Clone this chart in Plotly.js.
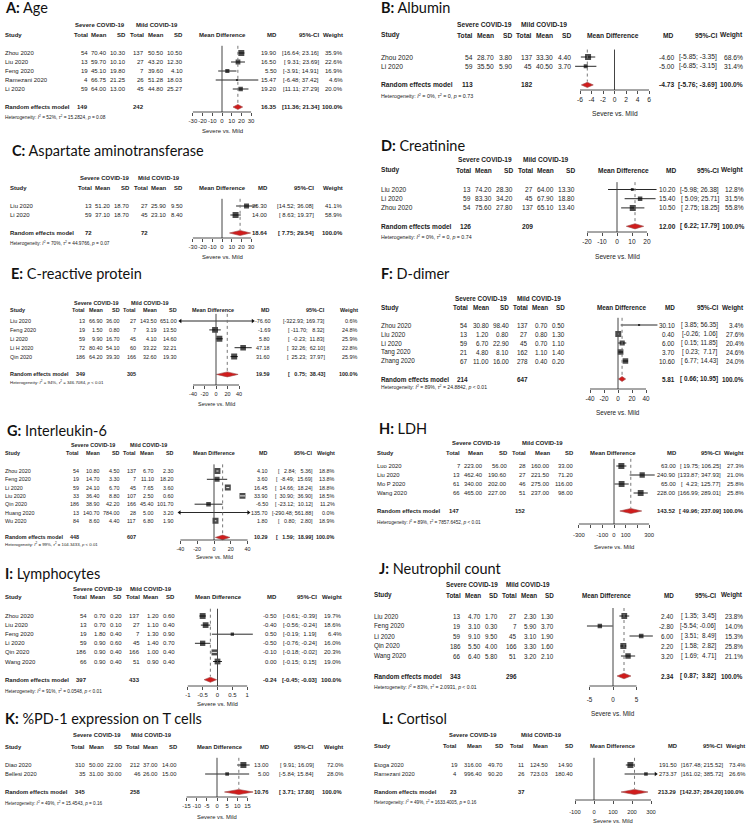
<!DOCTYPE html>
<html>
<head>
<meta charset="utf-8">
<script src="https://cdn.plot.ly/plotly-3.0.1.min.js"></script>
<style>
  body { margin: 0; background: #fff; }
  #chart { width: 752px; height: 825px; }
</style>
</head>
<body>
<div id="chart"></div>
<script>
// ---------- data ----------
// each study row: severe [total, mean, sd], mild [total, mean, sd], [md, lower, upper], weight %

// A: Age
const ageStudy = ["Zhou 2020", "Liu 2020", "Feng 2020", "Ramezani 2020", "Li 2020"];
const ageSevere = [[54, 70.40, 10.30], [13, 59.70, 10.10], [19, 45.10, 19.80], [4, 66.75, 21.25], [59, 64.00, 13.00]];
const ageMild = [[137, 50.50, 10.50], [27, 43.20, 12.30], [7, 39.60, 4.10], [26, 51.28, 18.03], [45, 44.80, 25.27]];
const ageMD = [[19.90, 16.64, 23.16], [16.50, 9.31, 23.69], [5.50, -3.91, 14.91], [15.47, -6.48, 37.42], [19.20, 11.11, 27.29]];
const ageWeight = [35.9, 22.6, 16.9, 4.6, 20.0];
const agePooled = [149, 242, 16.35, 11.36, 21.34];
const ageHet = ["52%", "15.2824", "= 0.08"];
const ageTicks = [-30, -20, -10, 0, 10, 20, 30];

// B: Albumin
const albStudy = ["Zhou 2020", "Li 2020"];
const albSevere = [[54, 28.70, 3.80], [59, 35.50, 5.90]];
const albMild = [[137, 33.30, 4.40], [45, 40.50, 3.70]];
const albMD = [[-4.60, -5.85, -3.35], [-5.00, -6.85, -3.15]];
const albWeight = [68.6, 31.4];
const albPooled = [113, 182, -4.73, -5.76, -3.69];
const albHet = ["0%", "0", "= 0.73"];
const albTicks = [-6, -4, -2, 0, 2, 4, 6];

// C: Aspartate aminotransferase
const astStudy = ["Liu 2020", "Li 2020"];
const astSevere = [[13, 51.20, 18.70], [59, 37.10, 18.70]];
const astMild = [[27, 25.90, 9.50], [45, 23.10, 8.40]];
const astMD = [[25.30, 14.52, 36.08], [14.00, 8.63, 19.37]];
const astWeight = [41.1, 58.9];
const astPooled = [72, 72, 18.64, 7.75, 29.54];
const astHet = ["70%", "44.9766", "= 0.07"];
const astTicks = [-30, -20, -10, 0, 10, 20, 30];

// D: Creatinine
const creStudy = ["Liu 2020", "Li 2020", "Zhou 2020"];
const creSevere = [[13, 74.20, 28.30], [59, 83.30, 34.20], [54, 75.60, 27.80]];
const creMild = [[27, 64.00, 13.30], [45, 67.90, 18.80], [137, 65.10, 13.40]];
const creMD = [[10.20, -5.98, 26.38], [15.40, 5.09, 25.71], [10.50, 2.75, 18.25]];
const creWeight = [12.8, 31.5, 55.8];
const crePooled = [126, 209, 12.00, 6.22, 17.79];
const creHet = ["0%", "0", "= 0.74"];
const creTicks = [-20, -10, 0, 10, 20];

// E: C-reactive protein
const crpStudy = ["Liu 2020", "Feng 2020", "Li 2020", "Li H 2020", "Qin 2020"];
const crpSevere = [[13, 66.90, 36.00], [19, 1.50, 0.80], [59, 9.90, 16.70], [72, 80.40, 54.10], [186, 64.20, 39.30]];
const crpMild = [[27, 143.50, 651.00], [7, 3.19, 13.50], [45, 4.10, 14.60], [60, 33.22, 32.21], [166, 32.60, 19.30]];
const crpMD = [[-76.60, -322.93, 169.73], [-1.69, -11.70, 8.32], [5.80, -0.23, 11.83], [47.18, 32.26, 62.10], [31.60, 25.23, 37.97]];
const crpWeight = [0.6, 24.8, 25.9, 22.8, 25.9];
const crpPooled = [349, 305, 19.59, 0.75, 38.43];
const crpHet = ["94%", "346.7084", "< 0.01"];
const crpTicks = [-40, -20, 0, 20, 40];

// F: D-dimer
const ddStudy = ["Zhou 2020", "Liu 2020", "Li 2020", "Tang 2020", "Zhang 2020"];
const ddSevere = [[54, 30.80, 98.40], [13, 1.20, 0.80], [59, 6.70, 22.90], [21, 4.80, 8.10], [67, 11.00, 16.00]];
const ddMild = [[137, 0.70, 0.50], [27, 0.80, 1.30], [45, 0.70, 1.10], [162, 1.10, 1.40], [278, 0.40, 0.20]];
const ddMD = [[30.10, 3.85, 56.35], [0.40, -0.26, 1.06], [6.00, 0.15, 11.85], [3.70, 0.23, 7.17], [10.60, 6.77, 14.43]];
const ddWeight = [3.4, 27.6, 20.4, 24.6, 24.0];
const ddPooled = [214, 647, 5.81, 0.66, 10.95];
const ddHet = ["89%", "24.8842", "< 0.01"];
const ddTicks = [-40, -20, 0, 20, 40];

// G: Interleukin-6
const il6Study = ["Zhou 2020", "Feng 2020", "Li 2020", "Liu 2020", "Qin 2020", "Huang 2020", "Wu 2020"];
const il6Severe = [[54, 10.80, 4.50], [19, 14.70, 3.30], [59, 24.10, 6.70], [33, 36.40, 8.80], [186, 38.90, 42.20], [13, 140.70, 784.00], [84, 8.60, 4.40]];
const il6Mild = [[137, 6.70, 2.30], [7, 11.10, 18.20], [45, 7.65, 3.60], [107, 2.50, 0.60], [166, 45.40, 101.70], [28, 5.00, 3.20], [117, 6.80, 1.90]];
const il6MD = [[4.10, 2.84, 5.36], [3.60, -8.49, 15.69], [16.45, 14.66, 18.24], [33.90, 30.90, 36.90], [-6.50, -23.12, 10.12], [135.70, -290.48, 561.88], [1.80, 0.80, 2.80]];
const il6Weight = [18.8, 13.8, 18.8, 18.5, 11.2, 0.0, 18.9];
const il6Pooled = [448, 607, 10.29, 1.59, 18.99];
const il6Het = ["99%", "104.3433", "< 0.01"];
const il6Ticks = [-40, -20, 0, 20, 40];

// H: LDH (the ±200 ticks carry no label)
const ldhStudy = ["Luo 2020", "Liu 2020", "Mo P 2020", "Wang 2020"];
const ldhSevere = [[7, 223.00, 56.00], [13, 462.40, 190.60], [61, 340.00, 202.00], [66, 465.00, 227.00]];
const ldhMild = [[28, 160.00, 33.00], [27, 221.50, 71.20], [46, 275.00, 116.00], [51, 237.00, 98.00]];
const ldhMD = [[63.00, 19.75, 106.25], [240.90, 133.87, 347.93], [65.00, 4.23, 125.77], [228.00, 166.99, 289.01]];
const ldhWeight = [27.3, 21.0, 25.8, 25.8];
const ldhPooled = [147, 152, 143.52, 49.96, 237.09];
const ldhHet = ["89%", "7857.6452", "< 0.01"];
const ldhTicks = [-300, -100, 0, 100, 300];
const ldhMinorTicks = [-200, 200];

// I: Lymphocytes
const lymStudy = ["Zhou 2020", "Liu 2020", "Feng 2020", "Li 2020", "Qin 2020", "Wang 2020"];
const lymSevere = [[54, 0.70, 0.20], [13, 0.70, 0.10], [19, 1.80, 0.40], [59, 0.90, 0.60], [186, 0.90, 0.40], [66, 0.90, 0.40]];
const lymMild = [[137, 1.20, 0.60], [27, 1.10, 0.40], [7, 1.30, 0.90], [45, 1.40, 0.70], [166, 1.00, 0.40], [51, 0.90, 0.40]];
const lymMD = [[-0.50, -0.61, -0.39], [-0.40, -0.56, -0.24], [0.50, -0.19, 1.19], [-0.50, -0.76, -0.24], [-0.10, -0.18, -0.02], [0.00, -0.15, 0.15]];
const lymWeight = [19.7, 18.6, 6.4, 16.0, 20.3, 19.0];
const lymPooled = [397, 433, -0.24, -0.45, -0.03];
const lymHet = ["91%", "0.0548", "< 0.01"];
const lymTicks = [-1, -0.5, 0, 0.5, 1];

// J: Neutrophil count
const neuStudy = ["Liu 2020", "Feng 2020", "Li 2020", "Qin 2020", "Wang 2020"];
const neuSevere = [[13, 4.70, 1.70], [19, 3.10, 0.30], [59, 9.10, 9.50], [186, 5.50, 4.00], [66, 6.40, 5.80]];
const neuMild = [[27, 2.30, 1.30], [7, 5.90, 3.70], [45, 3.10, 1.90], [166, 3.30, 1.60], [51, 3.20, 2.10]];
const neuMD = [[2.40, 1.35, 3.45], [-2.80, -5.54, -0.06], [6.00, 3.51, 8.49], [2.20, 1.58, 2.82], [3.20, 1.69, 4.71]];
const neuWeight = [23.8, 14.0, 15.3, 25.8, 21.1];
const neuPooled = [343, 296, 2.34, 0.87, 3.82];
const neuHet = ["83%", "2.0931", "< 0.01"];
const neuTicks = [-5, 0, 5];

// K: %PD-1 expression on T cells
const pdStudy = ["Diao 2020", "Bellesi 2020"];
const pdSevere = [[310, 50.00, 22.00], [35, 31.00, 30.00]];
const pdMild = [[212, 37.00, 14.00], [46, 26.00, 15.00]];
const pdMD = [[13.00, 9.91, 16.09], [5.00, -5.84, 15.84]];
const pdWeight = [72.0, 28.0];
const pdPooled = [345, 258, 10.76, 3.71, 17.80];
const pdHet = ["49%", "15.4543", "= 0.16"];
const pdTicks = [-15, -10, -5, 0, 5, 10, 15];

// L: Cortisol
const corStudy = ["Etoga 2020", "Ramezani 2020"];
const corSevere = [[19, 316.00, 49.70], [4, 996.40, 90.20]];
const corMild = [[11, 124.50, 14.90], [26, 723.03, 180.40]];
const corMD = [[191.50, 167.48, 215.52], [273.37, 161.02, 385.72]];
const corWeight = [73.4, 26.6];
const corPooled = [23, 37, 213.29, 142.37, 284.20];
const corHet = ["49%", "1633.4005", "= 0.16"];
const corTicks = [-100, 0, 100, 200, 300];

const panels = [
  { tag: "A", name: "Age", study: ageStudy, sev: ageSevere, mild: ageMild, md: ageMD, wt: ageWeight, pooled: agePooled, het: ageHet, ticks: ageTicks },
  { tag: "B", name: "Albumin", study: albStudy, sev: albSevere, mild: albMild, md: albMD, wt: albWeight, pooled: albPooled, het: albHet, ticks: albTicks },
  { tag: "C", name: "Aspartate aminotransferase", study: astStudy, sev: astSevere, mild: astMild, md: astMD, wt: astWeight, pooled: astPooled, het: astHet, ticks: astTicks },
  { tag: "D", name: "Creatinine", study: creStudy, sev: creSevere, mild: creMild, md: creMD, wt: creWeight, pooled: crePooled, het: creHet, ticks: creTicks },
  { tag: "E", name: "C-reactive protein", study: crpStudy, sev: crpSevere, mild: crpMild, md: crpMD, wt: crpWeight, pooled: crpPooled, het: crpHet, ticks: crpTicks },
  { tag: "F", name: "D-dimer", study: ddStudy, sev: ddSevere, mild: ddMild, md: ddMD, wt: ddWeight, pooled: ddPooled, het: ddHet, ticks: ddTicks },
  { tag: "G", name: "Interleukin-6", study: il6Study, sev: il6Severe, mild: il6Mild, md: il6MD, wt: il6Weight, pooled: il6Pooled, het: il6Het, ticks: il6Ticks },
  { tag: "H", name: "LDH", study: ldhStudy, sev: ldhSevere, mild: ldhMild, md: ldhMD, wt: ldhWeight, pooled: ldhPooled, het: ldhHet, ticks: ldhTicks, minor: ldhMinorTicks },
  { tag: "I", name: "Lymphocytes", study: lymStudy, sev: lymSevere, mild: lymMild, md: lymMD, wt: lymWeight, pooled: lymPooled, het: lymHet, ticks: lymTicks },
  { tag: "J", name: "Neutrophil count", study: neuStudy, sev: neuSevere, mild: neuMild, md: neuMD, wt: neuWeight, pooled: neuPooled, het: neuHet, ticks: neuTicks },
  { tag: "K", name: "%PD-1 expression on T cells", study: pdStudy, sev: pdSevere, mild: pdMild, md: pdMD, wt: pdWeight, pooled: pdPooled, het: pdHet, ticks: pdTicks },
  { tag: "L", name: "Cortisol", study: corStudy, sev: corSevere, mild: corMild, md: corMD, wt: corWeight, pooled: corPooled, het: corHet, ticks: corTicks },
];

// ---------- page geometry (pixels) ----------
// left: study column start, sd2: right edge of the last mild column,
// mdh: centre of "Mean Difference", md / wt: right edges of the MD and Weight columns.
// Column widths and the font size follow from the texts, like meta's forest().
const geom = {
  A: { title: [5, 8], left: 5, sd2: 183, mdh: 222, md: 277, wt: 343, h1: 25, h2: 35, r0: 53, step: 9, axis: 112, het: 117, xlab: 131, zero: 222, scale: 0.97, range: [-40, 40] },
  B: { title: [381, 8], left: 381, sd2: 571, mdh: 613, md: 674, wt: 743, h1: 25, h2: 35, r0: 57, step: 9.3, axis: 90, het: 96, xlab: 113, zero: 614.5, scale: 5.75, range: [-7, 7] },
  C: { title: [12, 150], left: 10, sd2: 183, mdh: 222, md: 268, wt: 343, h1: 178, h2: 188, r0: 206, step: 9, axis: 238, het: 243, xlab: 257, zero: 222, scale: 0.97, range: [-40, 40] },
  D: { title: [381, 145], left: 381, sd2: 575, mdh: 623, md: 676, wt: 744, h1: 159, h2: 170, r0: 189.5, step: 9.2, axis: 232, het: 237, xlab: 256, zero: 617, scale: 1.5, range: [-25, 30] },
  E: { title: [11, 274], left: 10, sd2: 177, mdh: 213, md: 270, wt: 358, h1: 303, h2: 310, r0: 321, step: 8.9, axis: 385, het: 382, xlab: 404, zero: 216, scale: 0.575, range: [-62, 64] },
  F: { title: [381, 274], left: 381, sd2: 565, mdh: 621, md: 675, wt: 744, h1: 298, h2: 308, r0: 325, step: 9, axis: 389, het: 387, xlab: 412, zero: 618, scale: 0.7, range: [-45, 58] },
  G: { title: [7, 430], left: 5, sd2: 174, mdh: 214, md: 268, wt: 335, h1: 445, h2: 453, r0: 471, step: 8.3, axis: 540, het: 544, xlab: 557, zero: 214, scale: 0.84, range: [-41, 41] },
  H: { title: [379, 428], left: 377, sd2: 573, mdh: 613, md: 676, wt: 744, h1: 443, h2: 453, r0: 466, step: 9, axis: 524, het: 522, xlab: 547, tls: 2, zero: 614, scale: 0.117, range: [-320, 360] },
  I: { title: [5, 573], left: 5, sd2: 175, mdh: 218, md: 277, wt: 342, h1: 589, h2: 597, r0: 616, step: 9.1, axis: 686, het: 691, xlab: 704, zero: 217.5, scale: 29.7, range: [-1.3, 1.3] },
  J: { title: [379, 568], left: 374, sd2: 554, mdh: 606, md: 674, wt: 743, h1: 584, h2: 595, r0: 616, step: 10, axis: 686, het: 687, xlab: 713, tls: 4, zero: 613, scale: 4.7, range: [-6.5, 8.5] },
  K: { title: [5, 718], left: 5, sd2: 177, mdh: 220, md: 269, wt: 343, h1: 735, h2: 747, r0: 765, step: 9, axis: 797, het: 803, xlab: 817, zero: 217, scale: 2.03, range: [-16, 18] },
  L: { title: [382, 718], left: 374, sd2: 573, mdh: 613, md: 677, wt: 745, h1: 735, h2: 746, r0: 765, step: 9, axis: 800, het: 802, xlab: 821, tls: 3, zero: 594, scale: 0.19, range: [-110, 325] },
};

const W = 752, H = 825;
const FONT = "Liberation Sans, Arial, Helvetica, sans-serif";
const TITLE_FONT = "Lato, 'Open Sans', sans-serif";
const INK = "#222";
const BOX = 6;        // side of the largest study square, px
const GAP_EM = 0.675; // column gap, in em

const ctx = document.createElement("canvas").getContext("2d");
function emWidth(s, bold) {
  ctx.font = `${bold ? "bold " : ""}100px "Liberation Sans", Arial`;
  return ctx.measureText(s).width / 100;
}
const colEm = (cells) => Math.max(...cells.map((c) => emWidth(c[0], c[1])));

const traces = [];
const shapes = [];
const annotations = [];
const layout = {
  width: W, height: H,
  margin: { l: 0, r: 0, t: 0, b: 0 },
  paper_bgcolor: "#fff", plot_bgcolor: "rgba(0,0,0,0)",
  showlegend: false, hovermode: false,
  shapes, annotations,
};

// text helper: y in page pixels, or in row units when yref is given
function note(x, y, text, o = {}) {
  annotations.push({
    xref: o.xref || "paper", x: o.xref ? x : x / W,
    yref: o.yref || "paper", y: o.yref ? y : 1 - y / H,
    text, showarrow: false, borderpad: 0, borderwidth: 0,
    xanchor: o.anchor || "right", yanchor: "middle",
    font: { family: o.family || FONT, size: o.size, color: o.color || INK },
  });
}

const f2 = (v) => v.toFixed(2);

panels.forEach((p, i) => {
  const g = geom[p.tag];
  const n = p.study.length;
  const sfx = i === 0 ? "" : String(i + 1);
  const xa = "x" + sfx, ya = "y" + sfx;
  const pooledRow = n + 1;
  const axisRow = (g.axis - g.r0) / g.step;
  const xl = g.zero + g.range[0] * g.scale;
  const xr = g.zero + g.range[1] * g.scale;
  const tMin = p.ticks[0], tMax = p.ticks[p.ticks.length - 1];

  // ---- cell strings ----
  const lows = p.md.map((m) => f2(m[1])).concat(f2(p.pooled[3]));
  const highs = p.md.map((m) => f2(m[2])).concat(f2(p.pooled[4]));
  const wLo = Math.max(...lows.map((s) => s.length));
  const wHi = Math.max(...highs.map((s) => s.length));
  const ci = (k) => `[${lows[k].padStart(wLo)}; ${highs[k].padStart(wHi)}]`;

  const leftCols = [
    p.study.map((s) => [s, false]).concat([["Study", true], ["Random effects model", true]]),
    p.sev.map((r) => [String(r[0]), false]).concat([["Total", true], [String(p.pooled[0]), true]]),
    p.sev.map((r) => [f2(r[1]), false]).concat([["Mean", true]]),
    p.sev.map((r) => [f2(r[2]), false]).concat([["SD", true]]),
    p.mild.map((r) => [String(r[0]), false]).concat([["Total", true], [String(p.pooled[1]), true]]),
    p.mild.map((r) => [f2(r[1]), false]).concat([["Mean", true]]),
    p.mild.map((r) => [f2(r[2]), false]).concat([["SD", true]]),
  ].map(colEm);
  const ciEm = colEm(p.md.map((_, k) => [ci(k), false]).concat([["95%-CI", true], [ci(n), true]]));
  const wtEm = colEm([["Weight", true], ["100.0%", true]]);
  const leftEm = leftCols.reduce((a, b) => a + b, 0);

  // font size: fit the left table, keeping some room between the right columns
  const fs = Math.min((g.sd2 - g.left) / (leftEm + 6 * GAP_EM),
                      1.04 * (g.wt - g.md) / (ciEm + wtEm + 2 * GAP_EM));
  const gapL = (g.sd2 - g.left - fs * leftEm) / 6;
  const edge = [g.left + fs * leftCols[0]];
  for (let j = 1; j < 7; j++) edge.push(edge[j - 1] + gapL + fs * leftCols[j]);
  const gapR = (g.wt - g.md - fs * (ciEm + wtEm)) / 2;
  const ciRight = g.wt - fs * wtEm - gapR;
  const sevCentre = (edge[1] - fs * leftCols[1] + edge[3]) / 2;
  const mildCentre = (edge[4] - fs * leftCols[4] + edge[6]) / 2;

  const xaxis = {
    domain: [xl / W, xr / W], range: g.range,
    anchor: "free", position: 1 - g.axis / H,
    tickvals: p.ticks, ticktext: p.ticks.map(String), tickangle: 0,
    ticks: "outside", ticklen: 3, tickwidth: 0.8, tickcolor: INK,
    ticklabelstandoff: g.tls || 0,
    showline: false, showgrid: false, zeroline: false, fixedrange: true,
    tickfont: { family: FONT, size: fs, color: INK },
  };
  if (p.minor) xaxis.minor = { tickvals: p.minor, ticks: "outside", ticklen: 3, tickwidth: 0.8, tickcolor: INK, showgrid: false };
  layout["xaxis" + sfx] = xaxis;
  layout["yaxis" + sfx] = {
    domain: [0, 1], range: [(H - g.r0) / g.step, -g.r0 / g.step],
    anchor: xa, visible: false, fixedrange: true,
  };

  // ---- texts ----
  note(g.title[0], g.title[1], `<b>${p.tag}:</b> ${p.name}`, { anchor: "left", family: TITLE_FONT, size: 14.5, color: "#111" });
  note(sevCentre, g.h1, "<b>Severe COVID-19</b>", { anchor: "center", size: fs });
  note(mildCentre, g.h1, "<b>Mild COVID-19</b>", { anchor: "center", size: fs });
  note(g.left, g.h2, "<b>Study</b>", { anchor: "left", size: fs });
  ["Total", "Mean", "SD", "Total", "Mean", "SD"].forEach((h, j) => note(edge[j + 1], g.h2, `<b>${h}</b>`, { size: fs }));
  note(g.mdh, g.h2, "<b>Mean Difference</b>", { anchor: "center", size: fs });
  note(g.md, g.h2, "<b>MD</b>", { size: fs });
  note(ciRight, g.h2, "<b>95%-CI</b>", { size: fs });
  note(g.wt, g.h2, "<b>Weight</b>", { size: fs });

  const row = { yref: ya, size: fs };
  p.study.forEach((s, k) => {
    note(g.left, k, s, { anchor: "left", yref: ya, size: fs });
    note(edge[1], k, String(p.sev[k][0]), row);
    note(edge[2], k, f2(p.sev[k][1]), row);
    note(edge[3], k, f2(p.sev[k][2]), row);
    note(edge[4], k, String(p.mild[k][0]), row);
    note(edge[5], k, f2(p.mild[k][1]), row);
    note(edge[6], k, f2(p.mild[k][2]), row);
    note(g.md, k, f2(p.md[k][0]), row);
    note(ciRight, k, ci(k), row);
    note(g.wt, k, p.wt[k].toFixed(1) + "%", row);
  });
  note(g.left, pooledRow, "<b>Random effects model</b>", { anchor: "left", yref: ya, size: fs });
  note(edge[1], pooledRow, `<b>${p.pooled[0]}</b>`, row);
  note(edge[4], pooledRow, `<b>${p.pooled[1]}</b>`, row);
  note(g.md, pooledRow, `<b>${f2(p.pooled[2])}</b>`, row);
  note(ciRight, pooledRow, `<b>${ci(n)}</b>`, row);
  note(g.wt, pooledRow, "<b>100.0%</b>", row);
  note(g.left, g.het,
    `Heterogeneity: <i>I</i><sup>2</sup> = ${p.het[0]}, <i>τ</i><sup>2</sup> = ${p.het[1]}, <i>p</i> ${p.het[2]}`,
    { anchor: "left", size: fs * 0.8 });
  note((tMin + tMax) / 2, g.xlab, "Severe vs. Mild", { anchor: "center", xref: xa, size: fs });

  // ---- reference lines ----
  shapes.push({ type: "line", xref: xa, yref: ya, x0: 0, x1: 0, y0: -0.8, y1: axisRow, line: { color: "#444", width: 1 } });
  shapes.push({ type: "line", xref: xa, yref: ya, x0: tMin, x1: tMax, y0: axisRow, y1: axisRow, line: { color: INK, width: 0.8 } });
  shapes.push({ type: "line", xref: xa, yref: ya, x0: p.pooled[2], x1: p.pooled[2], y0: -0.8, y1: pooledRow - 0.35, line: { color: "#777", width: 1, dash: "dot" } });

  // ---- study squares and confidence intervals ----
  // a CI that fits inside its square is drawn in white, as meta does
  const wMax = Math.max(...p.wt);
  const sizes = p.wt.map((w) => BOX * Math.sqrt(w / wMax));
  const outX = [], outY = [], inX = [], inY = [];
  const arX = [], arY = [], arSym = [];
  p.md.forEach((m, k) => {
    const lo = Math.max(m[1], g.range[0]);
    const hi = Math.min(m[2], g.range[1]);
    const inside = (m[2] - m[1]) * g.scale < 0.85 * sizes[k];
    (inside ? inX : outX).push(lo, hi, null);
    (inside ? inY : outY).push(k, k, null);
    if (m[1] < g.range[0]) { arX.push(g.range[0]); arY.push(k); arSym.push("triangle-left"); }
    if (m[2] > g.range[1]) { arX.push(g.range[1]); arY.push(k); arSym.push("triangle-right"); }
  });
  traces.push({ x: outX, y: outY, xaxis: xa, yaxis: ya, mode: "lines", line: { color: "#111", width: 0.9 } });
  traces.push({
    x: p.md.map((m) => m[0]), y: p.study.map((_, k) => k), xaxis: xa, yaxis: ya,
    mode: "markers", marker: { symbol: "square", size: sizes, color: "#000", line: { width: 0 } },
  });
  traces.push({ x: inX, y: inY, xaxis: xa, yaxis: ya, mode: "lines", line: { color: "#fff", width: 0.9 } });
  if (arX.length) {
    traces.push({ x: arX, y: arY, xaxis: xa, yaxis: ya, mode: "markers", cliponaxis: false,
      marker: { symbol: arSym, size: 4, color: "#111", line: { width: 0 } } });
  }

  // ---- pooled diamond ----
  const pm = p.pooled;
  traces.push({
    x: [pm[3], pm[2], pm[4], pm[2], pm[3]],
    y: [pooledRow, pooledRow - 0.28, pooledRow, pooledRow + 0.28, pooledRow],
    xaxis: xa, yaxis: ya, mode: "lines", fill: "toself",
    fillcolor: "#d01c1c", line: { color: "#9a4a4a", width: 0.6 },
  });
});

Plotly.newPlot("chart", traces, layout, { staticPlot: true, displayModeBar: false });
</script>
</body>
</html>
